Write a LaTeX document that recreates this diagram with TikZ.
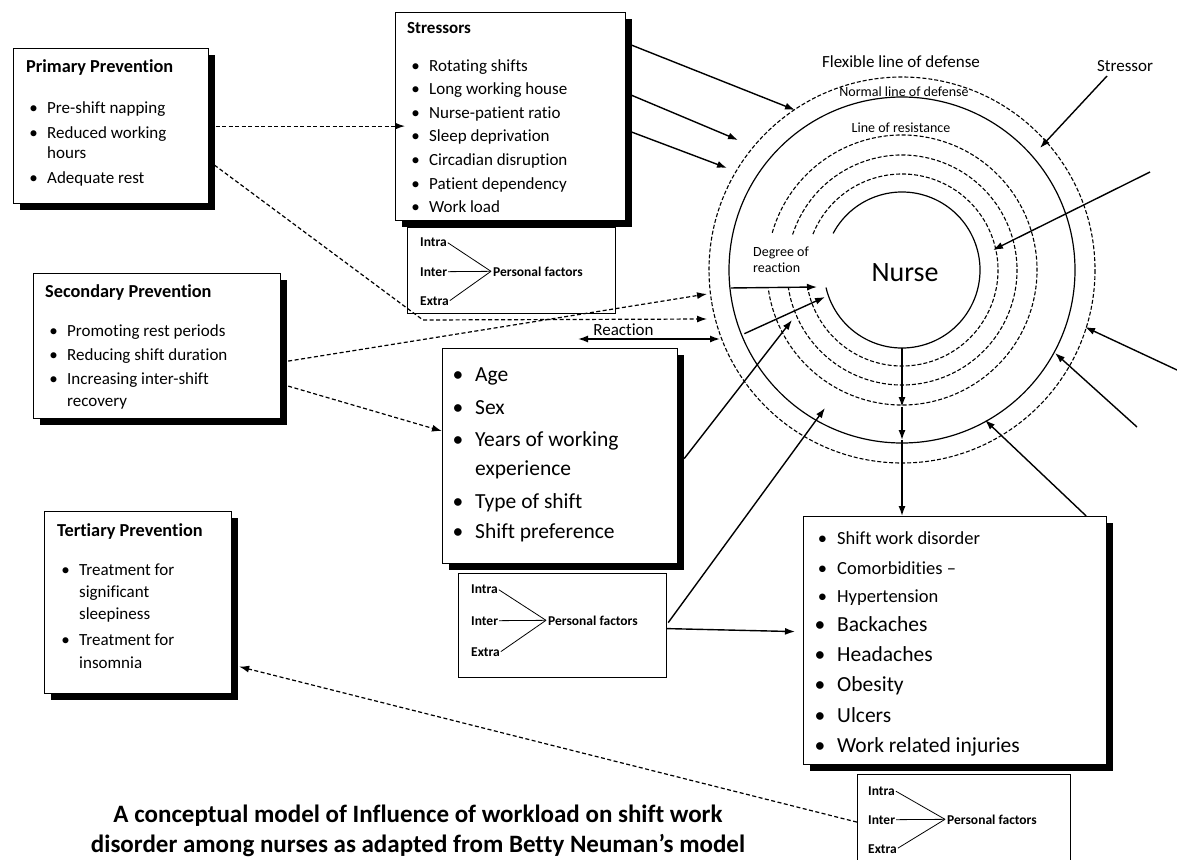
\documentclass[tikz,border=0pt]{standalone}
\usepackage{fontspec}
\setmainfont[Ligatures=NoCommon]{Carlito}
\usepackage{tikz}
\usetikzlibrary{arrows.meta, calc, shadows}

\newcommand{\fsz}[1]{\fontsize{#1}{#1}\selectfont}
\newcommand{\bl}{\makebox[0pt][r]{\textbullet\hspace{0.55em}}}

\tikzset{
  box/.style={draw, line width=1.2pt, fill=white, anchor=north west, inner sep=0pt},
  shbox/.style={box, drop shadow={shadow xshift=6pt, shadow yshift=-6pt, fill=black, opacity=1}},
  ttl/.style={anchor=base west, inner sep=0pt, font=\fsz{18.3}\bfseries},
  itm/.style={anchor=base west, inner sep=0pt, font=\fsz{17}},
  miditm/.style={itm, font=\fsz{18.5}},
  bigitm/.style={itm, font=\fsz{21.5}},
  pf/.style={anchor=base west, inner sep=0pt, font=\fsz{13.5}\bfseries},
  lbl/.style={anchor=base, inner sep=0pt, font=\fsz{14}},
  ring/.style={line width=1.2pt},
  dring/.style={line width=1.1pt, dash pattern=on 4pt off 2pt},
  arr/.style={line width=1.4pt, -{Latex[length=10pt, width=7pt]}},
  darr/.style={line width=1.2pt, dash pattern=on 4pt off 2.5pt, -{Latex[length=10pt, width=7pt]}},
}

\begin{document}
\begin{tikzpicture}[x=1pt, y=-1pt]
  \clip (0,0) rectangle (1177,859);
  \coordinate (C) at (902,270);

  % Rings round the nurse
  \draw[dring] (C) circle[radius=193];
  \draw[ring] (C) circle[radius=173];
  \draw[dring] ($(C)+(-164:135)$) arc[start angle=-164, end angle=172, radius=135];
  \draw[dring] ($(C)+(-162:115)$) arc[start angle=-162, end angle=171, radius=115];
  \draw[dring] ($(C)+(-158:96)$) arc[start angle=-158, end angle=169, radius=96];
  \draw[ring] ($(C)+(-152:78)$) arc[start angle=-152, end angle=167, radius=78];

  \node[lbl, font=\fsz{17}] (flex) at (901,67) {Flexible line of defense};
  \node[lbl] (normal) at (904,96) {Normal line of defense};
  \node[lbl] (resist) at (901,132) {Line of resistance};
  \node[lbl, font=\fsz{17}] (strl) at (1125,71) {Stressor};
  \node[lbl, font=\fsz{28}] (nurse) at (905,281) {Nurse};
  \node[lbl, anchor=north west, align=left, font=\fontsize{14}{16}\selectfont] (deg) at (753,247) {Degree of\\reaction};

  % Boxes
  \node[shbox, minimum width=195pt, minimum height=155pt] (prim) at (13,48) {};
  \node[shbox, minimum width=230pt, minimum height=208pt] (stress) at (395,12) {};
  \node[box, minimum width=208pt, minimum height=86pt] (pf1) at (407,227) {};
  \node[shbox, minimum width=247pt, minimum height=145pt] (sec) at (33,273) {};
  \node[shbox, minimum width=235pt, minimum height=215pt] (age) at (442,348) {};
  \node[box, minimum width=208pt, minimum height=104pt] (pf2) at (458,573) {};
  \node[shbox, minimum width=187pt, minimum height=182pt] (tert) at (44,511) {};
  \node[shbox, minimum width=303pt, minimum height=248pt] (res) at (803,516) {};
  \node[box, minimum width=213pt, minimum height=95pt] (pf3) at (857,774) {};

  % Box texts
  \node[ttl] (prim-t) at (26,73) {Primary Prevention};
  \foreach \y/\t [count=\i] in {113/\bl Pre-shift napping, 138/\bl Reduced working, 158/hours, 183/\bl Adequate rest}
    \node[itm] (prim-\i) at (47,\y) {\t};

  \node[ttl, font=\fsz{17}\bfseries] (stress-t) at (407,34) {Stressors};
  \foreach \y/\t [count=\i] in {71/Rotating shifts, 94/Long working house, 118/Nurse-patient ratio, 141/Sleep deprivation, 165/Circadian disruption, 189/Patient dependency, 212/Work load}
    \node[itm] (stress-\i) at (429,\y) {\bl\t};

  \node[ttl] (sec-t) at (45,297) {Secondary Prevention};
  \foreach \y/\t [count=\i] in {336/\bl Promoting rest periods, 360/\bl Reducing shift duration, 384/\bl Increasing inter-shift, 406/recovery}
    \node[itm] (sec-\i) at (67,\y) {\t};

  \node[ttl] (tert-t) at (57,536) {Tertiary Prevention};
  \foreach \y/\t [count=\i] in {575/\bl Treatment for, 597/significant, 619/sleepiness, 645/\bl Treatment for, 668/insomnia}
    \node[itm] (tert-\i) at (79,\y) {\t};

  \foreach \y/\t [count=\i] in {381/\bl Age, 414/\bl Sex, 446/\bl Years of working, 475/experience, 508/\bl Type of shift, 538/\bl Shift preference}
    \node[bigitm] (age-\i) at (475,\y) {\t};

  \foreach \y/\t [count=\i] in {544/Shift work disorder, 574/Comorbidities –, 602/Hypertension}
    \node[miditm] (res-\i) at (837,\y) {\bl\t};
  \foreach \y/\t [count=\i from 4] in {631/Backaches, 661/Headaches, 691/Obesity, 722/Ulcers, 752/Work related injuries}
    \node[bigitm] (res-\i) at (837,\y) {\bl\t};

  % Personal factors
  \foreach \n/\x/\y/\d/\px in {pf1/420/276/29.5/493, pf2/471/625/31.5/548, pf3/868/824/29/947} {
    \node[pf] (\n-a) at (\x,\y-\d) {Intra};
    \node[pf] (\n-b) at (\x,\y) {Inter};
    \node[pf] (\n-c) at (\x,\y+\d) {Extra};
    \node[pf] (\n-p) at (\px,\y) {Personal factors};
    \foreach \s in {a,b,c}
      \draw[line width=0.8pt, shorten <=1pt] (\n-\s.east) -- ([xshift=-2pt]\n-p.west);
  }

  % Caption
  \node[anchor=base, font=\fsz{25}\bfseries] (cap1) at (418,822) {A conceptual model of Influence of workload on shift work};
  \node[anchor=base, font=\fsz{25}\bfseries] (cap2) at (418,852) {disorder among nurses as adapted from Betty Neuman’s model};

  % Free ends of the arrows
  \coordinate (st1) at (1107,76);  \coordinate (st1-e) at (1040,148);
  \coordinate (st2) at (1150,172); \coordinate (st2-e) at (993,250);
  \coordinate (st3) at (1177,370); \coordinate (st3-e) at (1085,327);
  \coordinate (st4) at (1137,427); \coordinate (st4-e) at (1055,353);
  \coordinate (st5-e) at (985,420);
  \coordinate (s1-e) at (795,110);
  \coordinate (s2-e) at (738,140);
  \coordinate (s3-e) at (727,168);
  \coordinate (bend) at (423,320);
  \coordinate (d1-e) at (707,319);
  \coordinate (d2-e) at (707,294);
  \coordinate (re-l) at (578,339);
  \coordinate (re-r) at (720,339);
  \coordinate (dg-s) at ($(C)+(174:172)$);
  \coordinate (dg-e) at (817,287);
  \coordinate (in-s) at ($(C)+(158:170)$);
  \coordinate (in-e) at (825,297);
  \coordinate (ag-e) at (792,320);
  \coordinate (pf-e) at (825,408);
  \coordinate (v0) at ($(C)+(90:78)$);
  \coordinate (v1) at ($(C)+(90:137)$);
  \coordinate (v2) at ($(C)+(90:170)$);

  % Stressor arrows
  \draw[arr] (st1) -- (st1-e);
  \draw[arr] (st2) -- (st2-e);
  \draw[arr] (st3) -- (st3-e);
  \draw[arr] (st4) -- (st4-e);
  \draw[arr] ($(res.north east)+(-21,0)$) -- (st5-e);
  \draw[arr] ($(stress.north east)+(0,31)$) -- (s1-e);
  \draw[arr] ($(stress.north east)+(0,81)$) -- (s2-e);
  \draw[arr] ($(stress.north east)+(0,118)$) -- (s3-e);

  % Prevention links
  \draw[darr] (prim.east) -- ([xshift=10pt]stress.west |- prim.east);
  \draw[darr] ($(prim.south east)+(0,-43)$) -- (bend) -- (d1-e);
  \draw[darr] ($(sec.east)+(7,15)$) -- (d2-e);
  \draw[darr] ($(sec.east)+(7,40)$) -- ([yshift=25pt]age.west);
  \draw[darr] (pf3.west) -- ($(tert.east)+(7,64)$);

  % Reaction
  \draw[line width=1.4pt, {Latex[length=10pt, width=7pt]}-{Latex[length=10pt, width=7pt]}] (re-l) -- node[lbl, font=\fsz{17}, pos=0.32, above=3pt] (react) {Reaction} (re-r);
  \draw[arr] (dg-s) -- (dg-e);
  \draw[arr] (in-s) -- (in-e);
  \draw[arr] ($(age.east)+(6,2.5)$) -- (ag-e);
  \draw[arr] ($(pf2.east)+(1,-3)$) -- (pf-e);
  \draw[arr] ($(pf2.east)+(0,3)$) -- ($(res.west)+(-8,-9)$);
  \draw[arr] (v0) -- (v1);
  \draw[arr] (v1) -- (v2);
  \draw[arr] (v2) -- (v0 |- res.north);
\end{tikzpicture}
\end{document}
